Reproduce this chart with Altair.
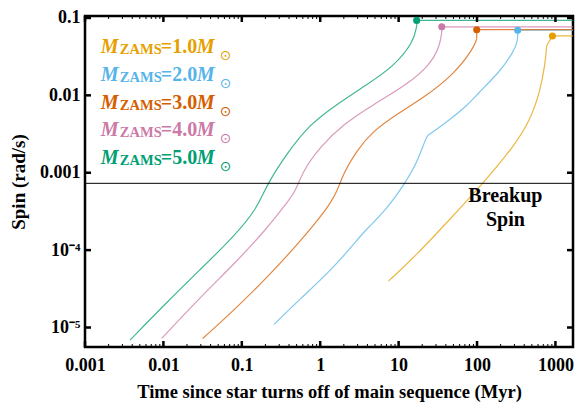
import json
import altair as alt
import pandas as pd

# ---------------- data ----------------
masses = ["1.0", "2.0", "3.0", "4.0", "5.0"]
colors = ["#E69F00", "#56B4E9", "#D55E00", "#CC79A7", "#009E73"]

X_MIN, X_MAX = 0.001, 1675
Y_MIN, Y_MAX = 5.6e-6, 0.106

# smooth part of each track: time since turn-off (Myr) and spin (rad/s)
t_10 = [7.41, 17.0, 45.3, 121, 291, 474, 637, 736, 774]
s_10 = [3.97e-5, 8.67e-5, 2.52e-4, 7.38e-4, 2.16e-3, 4.69e-3, 0.0113, 0.0246, 0.0441]

t_20 = [0.258, 0.552, 1.47, 2.93, 3.92, 7.05, 12.1, 17.0, 21.7, 23.5, 41.0, 77.6, 99.1, 196, 291, 327, 330]
s_20 = [1.10e-5, 2.33e-5, 5.86e-5, 1.34e-4, 1.88e-4, 3.38e-4, 7.38e-4, 1.32e-3, 2.62e-3, 3.03e-3,
        4.48e-3, 7.64e-3, 0.0102, 0.0202, 0.0363, 0.0486, 0.0600]

t_30 = [0.0317, 0.0782, 0.208, 0.552, 1.21, 1.62, 1.98, 2.93, 4.78, 9.46, 20.7, 50.0, 89.9, 99.1]
s_30 = [7.22e-6, 1.65e-5, 4.38e-5, 1.28e-4, 3.38e-4, 5.51e-4, 9.89e-4, 1.95e-3, 3.50e-3, 5.70e-3,
        9.29e-3, 0.0184, 0.0401, 0.0537]

t_40 = [0.00951, 0.0293, 0.0782, 0.208, 0.374, 0.477, 0.611, 1.0, 1.98, 4.78, 12.7, 25.2, 33.7, 35.5]
s_40 = [7.22e-6, 2.44e-5, 6.47e-5, 1.88e-4, 4.11e-4, 5.51e-4, 1.09e-3, 2.16e-3, 4.26e-3, 7.64e-3,
        0.0137, 0.0246, 0.0441, 0.0660]

t_50 = [0.00375, 0.0110, 0.0293, 0.0782, 0.155, 0.208, 0.374, 0.741, 1.62, 3.92, 8.59, 15.5, 17.0]
s_50 = [6.88e-6, 2.11e-5, 5.58e-5, 1.48e-4, 3.38e-4, 7.0e-4, 1.77e-3, 4.26e-3, 7.64e-3, 0.0137,
        0.0234, 0.0486, 0.0791]

# sharp kinks (index into the track) where the smooth curve restarts
kinks = {"2.0": [9]}

# end of spin-up (marker) and flat spin afterwards
marker_t = [916, 330, 99.1, 35.5, 17.0]
marker_s = [0.0586, 0.0695, 0.0705, 0.0769, 0.093]

breakup_spin = 7.3e-4
breakup_label = "Breakup\nSpin"
breakup_label_t = 230

x_major = [0.001, 0.01, 0.1, 1, 10, 100, 1000]
x_labels = ["0.001", "0.01", "0.1", "1", "10", "100", "1000"]
y_major = [1e-5, 1e-4, 1e-3, 1e-2, 1e-1]
y_labels = ["10⁻⁵", "10⁻⁴", "0.001", "0.01", "0.1"]
minor_mult = [2, 3, 4, 5, 6, 7, 8, 9]

x_title = "Time since star turns off of main sequence (Myr)"
y_title = "Spin (rad/s)"

# ---------------- build tables ----------------
curve_rows, straight_rows = [], []
tracks = zip(masses, [t_10, t_20, t_30, t_40, t_50], [s_10, s_20, s_30, s_40, s_50], marker_t, marker_s)
for m, ts, ss, mt, ms in tracks:
    seg = 0
    for i, (t, s) in enumerate(zip(ts, ss)):
        if i in kinks.get(m, []):
            curve_rows.append({"mass": m, "seg": f"{m}-{seg}", "t": t, "s": s, "i": i})
            seg += 1
        curve_rows.append({"mass": m, "seg": f"{m}-{seg}", "t": t, "s": s, "i": i})
    for i, (t, s) in enumerate([(ts[-1], ss[-1]), (mt, ms), (X_MAX, ms)]):
        straight_rows.append({"mass": m, "t": t, "s": s, "i": i})
df_curve = pd.DataFrame(curve_rows)
df_straight = pd.DataFrame(straight_rows)
df_mark = pd.DataFrame({"mass": masses, "t": marker_t, "s": marker_s})
df_leg = pd.DataFrame({"mass": masses, "idx": list(range(len(masses)))})
df_break = pd.DataFrame({"t": [breakup_label_t], "s": [breakup_spin], "label": [breakup_label]})
x_minor = [m * 10.0 ** e for e in range(-3, 4) for m in minor_mult if m * 10.0 ** e <= X_MAX]
df_xmaj = pd.DataFrame({"t": x_major})
df_xmin = pd.DataFrame({"t": x_minor})
df_ymaj = pd.DataFrame({"s": y_major})

W, H = 488, 331
FONT = "Liberation Serif"

xs = alt.Scale(type="log", domain=[X_MIN, X_MAX], nice=False)
ys = alt.Scale(type="log", domain=[Y_MIN, Y_MAX], nice=False)
cs = alt.Scale(domain=masses, range=colors)

x_lab_expr = json.dumps(x_labels, ensure_ascii=False) + "[round(log(datum.value)/LN10)+3]"
y_lab_expr = json.dumps(y_labels, ensure_ascii=False) + "[round(log(datum.value)/LN10)+5]"

x_axis = alt.Axis(values=x_major, labelExpr=x_lab_expr, ticks=False, domain=False, grid=False,
                  labelFont=FONT, labelFontSize=18, labelFontWeight="bold", labelColor="black",
                  labelPadding=9, labelFlush=False, labelOverlap=False,
                  title=x_title, titleFont=FONT, titleFontSize=18.5, titleFontWeight="bold",
                  titleColor="black", titlePadding=8)
y_axis = alt.Axis(values=y_major, labelExpr=y_lab_expr, ticks=False, domain=False, grid=False,
                  labelFont=FONT, labelFontSize=18, labelFontWeight="bold", labelColor="black",
                  labelPadding=5, labelFlush=False, labelOverlap=False,
                  title=y_title, titleFont=FONT, titleFontSize=19, titleFontWeight="bold",
                  titleColor="black", titlePadding=11)

X = alt.X("t:Q", scale=xs, axis=x_axis, title=x_title)
Y = alt.Y("s:Q", scale=ys, axis=y_axis, title=y_title)
C = alt.Color("mass:N", scale=cs, legend=None)

curves = alt.Chart(df_curve).mark_line(strokeWidth=1.2, opacity=0.75, clip=True,
                                       interpolate="basis").encode(
    x=X, y=Y, color=C, detail="seg:N", order="i:Q")
straights = alt.Chart(df_straight).mark_line(strokeWidth=1.2, opacity=0.75, clip=True).encode(
    x=X, y=Y, color=C, order="i:Q")

markers = alt.Chart(df_mark).mark_circle(size=50, opacity=1).encode(x=X, y=Y, color=C)

breakup_rule = alt.Chart(df_break).mark_rule(color="black", strokeWidth=1).encode(y=Y)
breakup_text = alt.Chart(df_break).mark_text(
    font=FONT, fontSize=20, fontWeight="bold", color="black", align="center",
    baseline="top", dy=3, lineBreak="\n", lineHeight=24
).encode(x=X, y=Y, text="label:N")

# inward ticks
tick_bot = alt.Chart(df_xmaj).mark_rule(color="black", strokeWidth=2.5).encode(
    x=X, y=alt.value(H), y2=alt.value(H - 6))
tick_top = alt.Chart(df_xmaj).mark_rule(color="black", strokeWidth=2.5).encode(
    x=X, y=alt.value(0), y2=alt.value(6))
mtick_bot = alt.Chart(df_xmin).mark_rule(color="black", strokeWidth=1).encode(
    x=X, y=alt.value(H), y2=alt.value(H - 3))
mtick_top = alt.Chart(df_xmin).mark_rule(color="black", strokeWidth=1).encode(
    x=X, y=alt.value(0), y2=alt.value(3))
tick_left = alt.Chart(df_ymaj).mark_rule(color="black", strokeWidth=2.5).encode(
    y=Y, x=alt.value(0), x2=alt.value(6))
tick_right = alt.Chart(df_ymaj).mark_rule(color="black", strokeWidth=2.5).encode(
    y=Y, x=alt.value(W), x2=alt.value(W - 6))

# legend text, piece by piece (M_ZAMS = m M_sun)
base_leg = alt.Chart(df_leg).transform_calculate(
    py="37.3 + 27.7*datum.idx", eq="'=' + datum.mass"
)
enc_y = alt.Y("py:Q", scale=None, axis=None)
leg_m1 = base_leg.mark_text(font=FONT, fontSize=20, fontWeight="bold", fontStyle="italic",
                            align="left", baseline="alphabetic", text="M").encode(
    x=alt.value(15.8), y=enc_y, color=C)
leg_sub = base_leg.mark_text(font=FONT, fontSize=14.5, fontWeight="bold",
                             align="left", baseline="alphabetic", dy=1, text="ZAMS").encode(
    x=alt.value(34.8), y=enc_y, color=C)
leg_eq = base_leg.mark_text(font=FONT, fontSize=20, fontWeight="bold",
                            align="left", baseline="alphabetic").encode(
    x=alt.value(75.8), y=enc_y, color=C, text="eq:N")
leg_m2 = base_leg.mark_text(font=FONT, fontSize=20, fontWeight="bold", fontStyle="italic",
                            align="left", baseline="alphabetic", text="M").encode(
    x=alt.value(111.8), y=enc_y, color=C)
leg_sun = base_leg.mark_text(font="DejaVu Sans", fontSize=14, align="center",
                             baseline="middle", dy=3, text="⊙").encode(
    x=alt.value(140.5), y=enc_y, color=C)

chart = alt.layer(
    curves, straights, breakup_rule, markers, breakup_text,
    tick_bot, tick_top, mtick_bot, mtick_top, tick_left, tick_right,
    leg_m1, leg_sub, leg_eq, leg_m2, leg_sun,
).properties(
    width=W, height=H,
    padding={"left": 77, "top": 8, "right": 2, "bottom": 58},
    autosize=alt.AutoSizeParams(type="none"),
    background="white",
).configure_view(stroke="black", strokeWidth=2.5)

chart.save("out.html", embed_options={"renderer": "svg", "actions": False})
